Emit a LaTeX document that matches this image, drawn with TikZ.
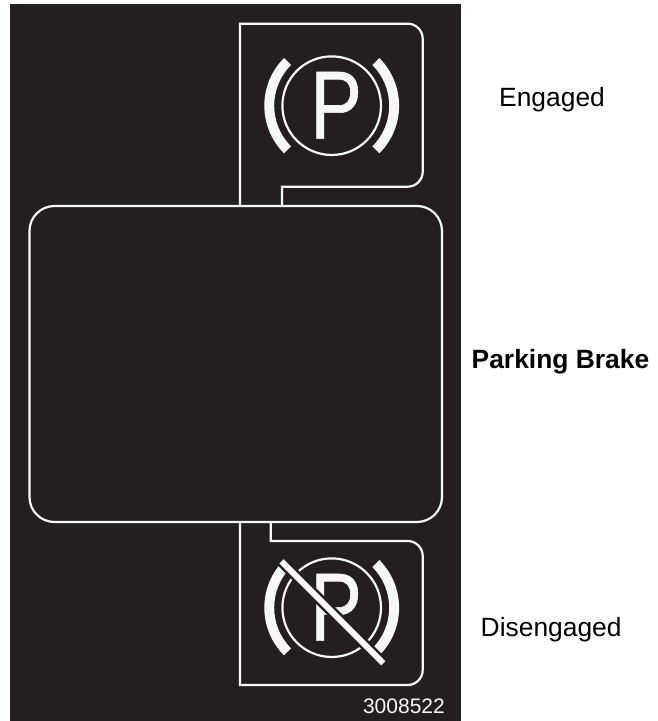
\documentclass[tikz,border=0pt]{standalone}
\usepackage{fontspec}
\setmainfont{Liberation Sans}
\newfontfamily\glyphfont[FakeStretch=0.80,FakeBold=0.6]{Liberation Sans}
\definecolor{panel}{HTML}{231F20}
\definecolor{ink}{HTML}{F7F7F7}
\tikzset{
  outline/.style={draw=ink,line width=2.2pt,line join=miter},
  label/.style={inner sep=0pt,anchor=base west,text=black,font=\fontsize{26.4}{30}\selectfont},
  band/.style={fill=ink,draw=none},
  brakering/.style={draw=ink,line width=2.2pt},
  letter/.style={inner sep=0pt,anchor=base west,text=ink,font=\glyphfont\fontsize{97}{104}\selectfont},
  pics/brakeicon/.style={code={
    \fill[band] (135:67.4pt) arc[start angle=135,end angle=225,radius=67.4pt]
       -- (225:57.5pt) arc[start angle=225,end angle=135,radius=57.5pt] -- cycle;
    \fill[band] (45:67.4pt) arc[start angle=45,end angle=-45,radius=67.4pt]
       -- (-45:57.5pt) arc[start angle=-45,end angle=45,radius=57.5pt] -- cycle;
    \draw[brakering] (0,0) circle[radius=49.3pt];
    \node[letter] (-glyph) at (-21.7pt,-33pt) {P};
  }}
}
\begin{document}
\begin{tikzpicture}[x=1pt,y=1pt]
\useasboundingbox (0,0) rectangle (658,721);
\fill[white] (0,0) rectangle (658,721);
\fill[panel] (10,0) rectangle (461,717);
% top tab
\draw[outline] (240,515) -- (240,697.3) -- (407.7,697.3)
  arc[start angle=90,end angle=0,radius=15] -- (422.7,549.3)
  arc[start angle=0,end angle=-90,radius=15] -- (282,534.3) -- (282,515);
% bottom tab
\draw[outline] (240,199) -- (240,36) -- (407.7,36)
  arc[start angle=-90,end angle=0,radius=15] -- (422.7,165)
  arc[start angle=0,end angle=90,radius=15] -- (270.7,180) -- (270.7,199);
% display
\draw[outline,rounded corners=25pt] (29.5,199) rectangle (442,515);
% icons
\pic (top) at (331.7,615.3) {brakeicon};
\pic (low) at (331.7,113.3) {brakeicon};
\coordinate (barA) at (281.5,159.7);
\coordinate (barB) at (383.3,57.7);
\draw[panel,line width=11pt] (barA) -- (barB);
\draw[ink,line width=6pt] (barA) -- (barB);
% labels
\node[label] (engaged) at (499,614.3) {Engaged};
\node[label,font=\fontsize{26.4}{30}\selectfont\bfseries] (parking) at (471.5,352) {Parking Brake};
\node[label] (disengaged) at (480.5,84.3) {Disengaged};
\node[inner sep=0pt,anchor=base east,text=ink,font=\fontsize{21}{24}\selectfont] (code) at (445,8) {3008522};
\end{tikzpicture}
\end{document}
